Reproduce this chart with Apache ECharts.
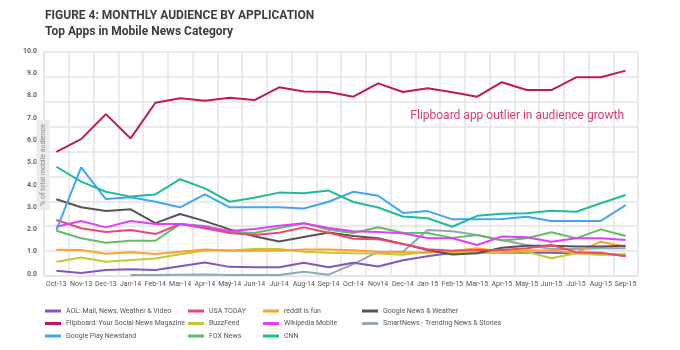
<!DOCTYPE html>
<html>
<head>
<meta charset="utf-8">
<script src="https://cdn.jsdelivr.net/npm/echarts@6/dist/echarts.min.js"></script>
<style>
html,body{margin:0;padding:0;background:#fff;}
#c{width:680px;height:350px;}
</style>
</head>
<body>
<div id="c"></div>
<script>
const months = ['Oct-13','Nov-13','Dec-13','Jan-14','Feb-14','Mar-14','Apr-14','May-14','Jun-14','Jul-14','Aug-14','Sep-14','Oct-14','Nov14','Dec-14','Jan-15','Feb-15','Mar-15','Apr-15','May-15','Jun-15','Jul-15','Aug-15','Sep-15'];
const yTicks = [0,1,2,3,4,5,6,7,8,9,10];

const aol        = [0.15,0.04,0.18,0.21,0.18,0.35,0.52,0.32,0.30,0.30,0.50,0.30,0.50,0.34,0.62,0.80,0.95,0.96,0.96,0.95,0.95,0.93,0.92,0.82];
const flipboard  = [5.48,6.05,7.17,6.08,7.68,7.88,7.77,7.90,7.80,8.37,8.18,8.16,7.95,8.55,8.16,8.33,8.15,7.95,8.60,8.25,8.25,8.82,8.82,9.12];
const googlePlay = [1.97,4.78,3.36,3.44,3.24,2.99,3.57,2.99,2.99,2.99,2.94,3.24,3.69,3.51,2.74,2.82,2.45,2.45,2.47,2.57,2.38,2.38,2.38,3.09];
const usaToday   = [2.42,2.05,1.88,1.97,1.79,2.24,2.05,1.84,1.75,1.85,2.09,1.85,1.58,1.56,1.35,1.11,1.04,1.08,1.08,1.15,1.30,0.98,0.95,0.80];
const buzzfeed   = [0.55,0.74,0.55,0.63,0.70,0.89,1.05,1.05,1.12,1.12,1.00,0.95,0.93,0.92,0.86,1.00,0.95,0.93,1.00,1.00,0.71,0.93,0.85,0.90];
const fox        = [1.94,1.60,1.40,1.49,1.49,2.24,2.15,1.90,1.84,2.06,2.28,1.98,1.84,2.10,1.85,1.84,1.62,1.75,1.50,1.60,1.87,1.60,2.00,1.70];
const reddit     = [1.09,1.08,0.91,0.97,0.90,1.00,1.10,1.05,1.04,1.04,1.10,1.10,1.07,1.00,0.98,0.95,1.03,1.15,1.00,1.05,1.05,0.95,1.45,1.22];
const wiki       = [2.12,2.38,2.09,2.38,2.24,2.24,2.12,1.93,2.02,2.16,2.28,2.06,1.92,1.88,1.83,1.61,1.60,1.30,1.68,1.65,1.45,1.60,1.60,1.52];
const cnn        = [4.81,4.14,3.69,3.47,3.57,4.25,3.84,3.24,3.42,3.65,3.62,3.74,3.23,2.98,2.58,2.50,2.12,2.61,2.70,2.72,2.84,2.79,3.17,3.54];
const gnw        = [3.35,2.99,2.83,2.90,2.28,2.69,2.37,2.00,1.69,1.46,1.66,1.86,1.70,1.60,1.35,1.08,0.87,0.93,1.18,1.27,1.27,1.23,1.23,1.27];
const smartnews  = [null,null,null,-0.05,-0.05,-0.03,-0.02,-0.05,-0.04,-0.05,0.10,-0.03,0.44,1.00,1.00,1.97,1.92,1.75,1.52,1.30,1.12,1.12,1.15,1.16];

const names = {
  aol:'AOL: Mail, News, Weather & Video', flipboard:'Flipboard: Your Social News Magazine', googlePlay:'Google Play Newstand',
  usaToday:'USA TODAY', buzzfeed:'BuzzFeed', fox:'FOX News',
  reddit:'reddit is fun', wiki:'Wikipedia Mobile', cnn:'CNN',
  gnw:'Google News & Weather', smartnews:'SmartNews - Trending News & Stories'
};
const colors = {
  aol:'#7e57c2', flipboard:'#c2185b', googlePlay:'#42a5f5',
  usaToday:'#ef476f', buzzfeed:'#c0ca33', fox:'#66bb6a',
  reddit:'#ffa02e', wiki:'#e040fb', cnn:'#1fbc9c',
  gnw:'#555555', smartnews:'#93a8b2'
};
const dataMap = {aol, flipboard, googlePlay, usaToday, buzzfeed, fox, reddit, wiki, cnn, gnw, smartnews};
const drawOrder = ['smartnews','aol','buzzfeed','reddit','gnw','fox','usaToday','wiki','googlePlay','cnn','flipboard'];

const FONT = 'Roboto, "Noto Sans", sans-serif';
const gridLine = {color:'#e4e4e4', width:1.5};

const series = drawOrder.map(k => ({
  name: names[k], type:'line', xAxisIndex:0, yAxisIndex:0,
  data: dataMap[k], symbol:'none', clip:false, connectNulls:false,
  lineStyle:{width:2, color:colors[k]}, itemStyle:{color:colors[k]}
}));

const legendCols = [
  {left:45, keys:['aol','flipboard','googlePlay']},
  {left:188, keys:['usaToday','buzzfeed','fox']},
  {left:263, keys:['reddit','wiki','cnn']},
  {left:362, keys:['gnw','smartnews']}
];

const chart = echarts.init(document.getElementById('c'), null, {renderer:'canvas'});
chart.setOption({
  animation:false,
  backgroundColor:'#ffffff',
  textStyle:{fontFamily:FONT},
  title:[
    {text:'FIGURE 4: MONTHLY AUDIENCE BY APPLICATION', left:45, top:10, padding:0,
     textStyle:{fontSize:12, fontWeight:'bold', color:'#3d3d3d', fontFamily:FONT}},
    {text:'Top Apps in Mobile News Category', left:45, top:26, padding:0,
     textStyle:{fontSize:12, fontWeight:'bold', color:'#3d3d3d', fontFamily:FONT}}
  ],
  legend: legendCols.map(c => ({
    orient:'vertical', left:c.left, top:305, padding:0, height:45,
    data:c.keys.map(k => names[k]),
    icon:'rect', itemWidth:16, itemHeight:3, itemGap:0.5,
    textStyle:{fontSize:7, color:'#555', lineHeight:12, fontFamily:FONT},
    selectedMode:false
  })),
  grid:[
    {left:44, right:42, top:51, bottom:76},
    {left:44, right:42, top:52, bottom:74}
  ],
  xAxis:[
    {gridIndex:0, type:'category', data:months, boundaryGap:true,
     axisLine:{show:false}, axisTick:{show:false}, splitLine:{show:false},
     axisLabel:{interval:0, fontSize:7, color:'#555', margin:7, fontFamily:FONT}},
    {gridIndex:1, type:'category', data:months, boundaryGap:true,
     axisLine:{show:true, lineStyle:gridLine}, axisTick:{show:false}, axisLabel:{show:false},
     splitLine:{show:true, interval:0, lineStyle:gridLine}}
  ],
  yAxis:[
    {gridIndex:0, type:'value', min:yTicks[0], max:yTicks[yTicks.length-1], interval:1,
     axisLine:{show:false}, axisTick:{show:false}, splitLine:{show:false},
     axisLabel:{fontSize:7, fontWeight:'bold', color:'#666', margin:7, fontFamily:FONT,
       formatter:v => v.toFixed(1)}},
    {gridIndex:1, type:'value', min:0, max:9, interval:1,
     axisLine:{show:true, lineStyle:gridLine}, axisTick:{show:false}, axisLabel:{show:false},
     splitLine:{show:true, lineStyle:gridLine}}
  ],
  graphic:[
    {type:'text', x:43, y:165, rotation:Math.PI/2, z:100,
     style:{text:'% of total mobile audience', fontSize:7, fill:'#888', fontFamily:FONT,
       align:'center', verticalAlign:'middle', backgroundColor:'#ececec', padding:[3,4]}},
    {type:'text', x:624, y:116, z:100,
     style:{text:'Flipboard app outlier in audience growth', fontSize:12, fill:'#d93b77', fontFamily:FONT,
       align:'right', verticalAlign:'middle'}}
  ],
  series: series
});
</script>
</body>
</html>
